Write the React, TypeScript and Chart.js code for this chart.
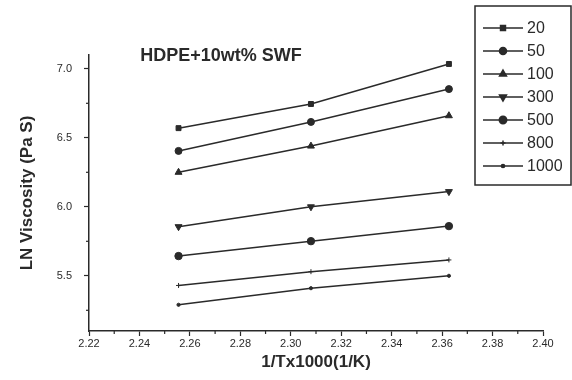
import React, { useEffect, useRef } from "react";
import { Chart, registerables } from "chart.js";
import { drawPoint } from "chart.js/helpers";

Chart.register(...registerables);

const xValues = [2.2555, 2.308, 2.3627];
const seriesLabels = ["20", "50", "100", "300", "500", "800", "1000"];
const s20 = [6.57, 6.745, 7.035];
const s50 = [6.405, 6.615, 6.853];
const s100 = [6.25, 6.44, 6.66];
const s300 = [5.856, 6.0, 6.11];
const s500 = [5.643, 5.751, 5.86];
const s800 = [5.43, 5.53, 5.615];
const s1000 = [5.29, 5.41, 5.5];
const seriesValues = [s20, s50, s100, s300, s500, s800, s1000];
const yTickValues = [5.5, 6.0, 6.5, 7.0];
const yMinorTickValues = [5.25, 5.75, 6.25, 6.75];
const xMinorTickValues = [2.23, 2.25, 2.27, 2.29, 2.31, 2.33, 2.35, 2.37, 2.39];
const pointStyles = ["rect", "circle", "triangle", "triangle", "circle", "cross", "circle"];
const pointRotations = [0, 0, 0, 180, 0, 0, 0];
const pointRadii = [3.5, 3.5, 4, 4, 3.7, 2.5, 1.6];

const titleText = "HDPE+10wt% SWF";
const xTitle = "1/Tx1000(1/K)";
const yTitle = "LN Viscosity (Pa S)";

const INK = "#2a2a2a";
const FONT = "'Liberation Sans', Arial, sans-serif";

const overlayPlugin = {
  id: "overlay",
  afterDraw(chart: any) {
    const ctx = chart.ctx;
    const xs = chart.scales.x;
    const ys = chart.scales.y;
    const area = chart.chartArea;
    ctx.save();
    // minor ticks
    ctx.strokeStyle = INK;
    ctx.lineWidth = 1.2;
    xMinorTickValues.forEach((v) => {
      const px = xs.getPixelForValue(v);
      ctx.beginPath();
      ctx.moveTo(px, area.bottom);
      ctx.lineTo(px, area.bottom + 3);
      ctx.stroke();
    });
    yMinorTickValues.forEach((v) => {
      const py = ys.getPixelForValue(v);
      ctx.beginPath();
      ctx.moveTo(area.left, py);
      ctx.lineTo(area.left - 3, py);
      ctx.stroke();
    });
    // title
    ctx.fillStyle = INK;
    ctx.font = `bold 18px ${FONT}`;
    ctx.textAlign = "center";
    ctx.textBaseline = "middle";
    ctx.fillText(titleText, 221, 56);
    // legend
    const bx = 475, by = 6, bw = 96, bh = 179;
    ctx.lineWidth = 1.5;
    ctx.strokeStyle = INK;
    ctx.strokeRect(bx, by, bw, bh);
    ctx.font = `16px ${FONT}`;
    ctx.textAlign = "left";
    chart.data.datasets.forEach((ds: any, i: number) => {
      const y = by + 22 + i * 23;
      ctx.strokeStyle = INK;
      ctx.lineWidth = 1.5;
      ctx.beginPath();
      ctx.moveTo(483, y);
      ctx.lineTo(523, y);
      ctx.stroke();
      ctx.fillStyle = INK;
      drawPoint(ctx, {
        pointStyle: ds.pointStyle,
        radius: ds.pointRadius,
        rotation: ds.pointRotation,
        borderWidth: 1,
      }, 503, y);
      ctx.fillStyle = INK;
      ctx.fillText(ds.label, 527, y + 1);
    });
    ctx.restore();
  },
};

export default function App() {
  const ref = useRef<HTMLCanvasElement | null>(null);
  useEffect(() => {
    if (!ref.current) return;
    const datasets = seriesLabels.map((lab, i) => ({
      label: lab,
      data: xValues.map((x, j) => ({ x, y: seriesValues[i][j] })),
      borderColor: INK,
      backgroundColor: INK,
      borderWidth: 1.5,
      pointStyle: pointStyles[i],
      pointRotation: pointRotations[i],
      pointRadius: pointRadii[i],
      pointBorderColor: INK,
      pointBackgroundColor: INK,
      pointBorderWidth: 1,
      fill: false,
      tension: 0,
    }));
    const chart = new Chart(ref.current, {
      type: "line",
      data: { datasets },
      options: {
        animation: false,
        responsive: false,
        layout: { padding: { top: 55, right: 29, left: 0, bottom: 0 } },
        plugins: { legend: { display: false }, tooltip: { enabled: false }, title: { display: false } },
        scales: {
          x: {
            type: "linear",
            min: 2.22,
            max: 2.40,
            afterFit: (s: any) => { s.height = 49; },
            ticks: {
              stepSize: 0.02,
              color: INK,
              font: { family: FONT, size: 11 },
              padding: 1,
              maxRotation: 0,
              callback: (v: any) => Number(v).toFixed(2),
            },
            grid: { drawOnChartArea: false, drawTicks: true, tickLength: 5, tickColor: INK, tickWidth: 1.2 },
            border: { display: true, color: INK, width: 1.5 },
            title: { display: true, text: xTitle, color: INK, font: { family: FONT, size: 17, weight: "bold" }, padding: { bottom: 7 } },
          },
          y: {
            type: "linear",
            min: 5.1,
            max: 7.1,
            afterFit: (s: any) => { s.width = 89; },
            afterBuildTicks: (s: any) => {
              s.ticks = yTickValues.map((value) => ({ value }));
            },
            ticks: {
              color: INK,
              font: { family: FONT, size: 11 },
              padding: 12,
              callback: (v: any) => Number(v).toFixed(1),
            },
            grid: { drawOnChartArea: false, drawTicks: true, tickLength: 5, tickColor: INK, tickWidth: 1.2 },
            border: { display: true, color: INK, width: 1.5 },
            title: { display: true, text: yTitle, color: INK, font: { family: FONT, size: 17, weight: "bold" }, padding: { top: 17 } },
          },
        },
      },
      plugins: [overlayPlugin],
    });
    return () => chart.destroy();
  }, []);
  return (
    <div style={{ position: "absolute", left: 0, top: 0, width: 572, height: 380, background: "#fff" }}>
      <canvas ref={ref} width={572} height={380} />
    </div>
  );
}
